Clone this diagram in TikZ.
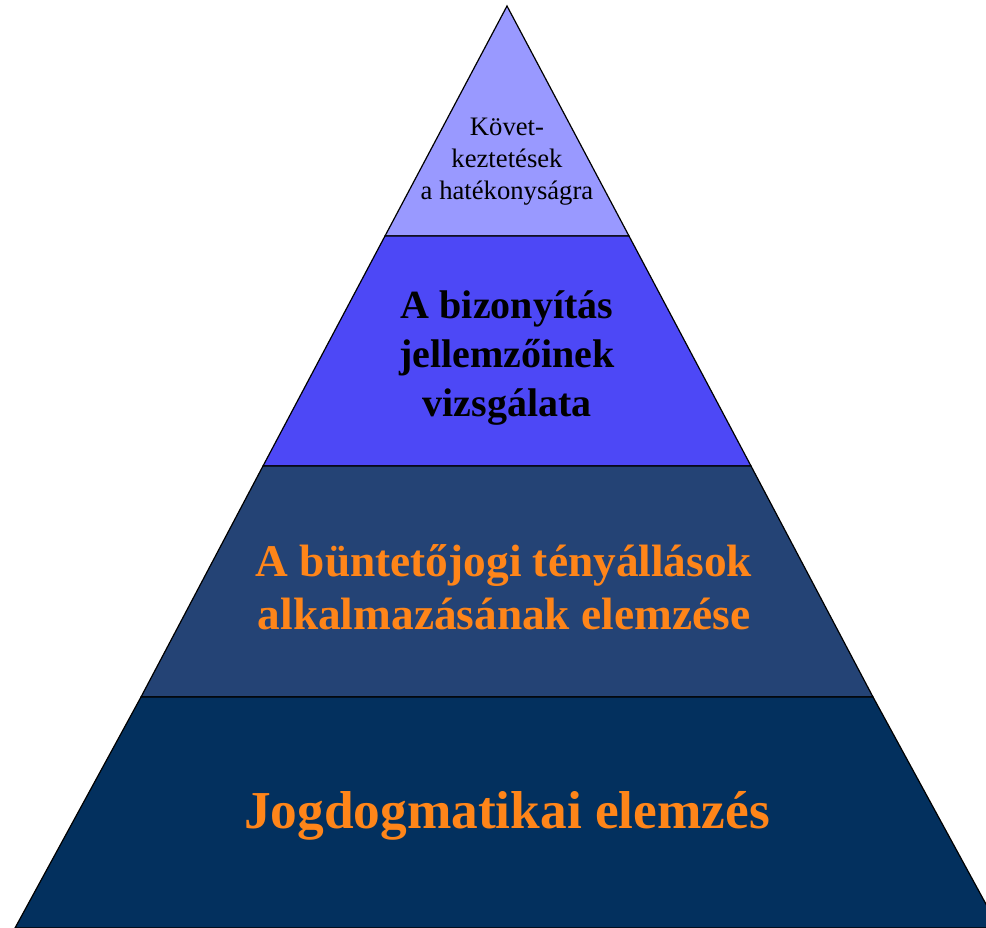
\documentclass[tikz,border=0pt]{standalone}
\usepackage{fontspec}
\setmainfont{Liberation Serif}

\definecolor{tier1}{RGB}{153,153,255}
\definecolor{tier2}{RGB}{77,72,246}
\definecolor{tier3}{RGB}{36,67,117}
\definecolor{tier4}{RGB}{3,48,94}
\definecolor{lbl}  {RGB}{255,133,25}

\begin{document}
\begin{tikzpicture}[x=0.75pt,y=-0.75pt]

    \useasboundingbox (0,0) rectangle (986,928);
    \clip (0,0) rectangle (986,928);

    \coordinate (apex) at (507,6);
    \coordinate (l1) at (385,236);  \coordinate (r1) at (629,236);
    \coordinate (l2) at (263,466);  \coordinate (r2) at (751,466);
    \coordinate (l3) at (141,697);  \coordinate (r3) at (873,697);
    \coordinate (l4) at (15,928);   \coordinate (r4) at (999,928);

    \draw[fill=tier1,line width=0.9pt] (apex) -- (r1) -- (l1) -- cycle;
    \draw[fill=tier2,line width=0.9pt] (l1) -- (r1) -- (r2) -- (l2) -- cycle;
    \draw[fill=tier3,line width=0.9pt] (l2) -- (r2) -- (r3) -- (l3) -- cycle;
    \draw[fill=tier4,line width=0.9pt] (l3) -- (r3) -- (r4) -- (l4) -- cycle;

    \node[align=center,font=\fontsize{20}{24}\selectfont] (t1) at (507,162)
        {Követ-\\keztetések\\a hatékonyságra};
    \node[align=center,font=\fontsize{30}{36.5}\selectfont\bfseries] (t2) at (507,358)
        {A bizonyítás\\jellemzőinek\\vizsgálata};
    \node[align=center,text=lbl,font=\fontsize{34}{40}\selectfont\bfseries] (t3) at (504,587)
        {A büntetőjogi tényállások\\alkalmazásának elemzése};
    \node[text=lbl,font=\fontsize{40}{48}\selectfont\bfseries] (t4) at (507,816)
        {Jogdogmatikai elemzés};

\end{tikzpicture}
\end{document}
